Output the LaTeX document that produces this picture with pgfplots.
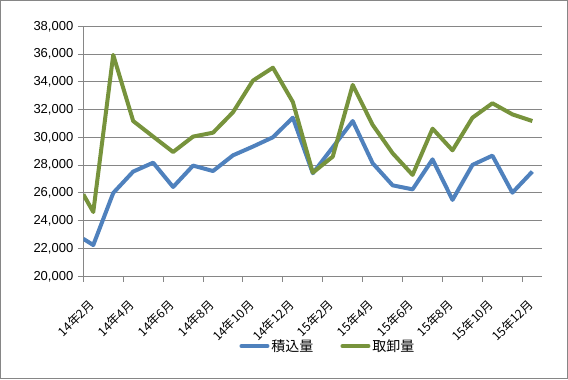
\documentclass[border=0pt]{standalone}
\usepackage{pgfplots}
\pgfplotsset{compat=1.18}
\usepackage{fontspec}
\setmainfont{Liberation Sans}
\newfontfamily\cjk{Noto Sans CJK JP}
\definecolor{sblue}{RGB}{79,129,189}
\definecolor{sgreen}{RGB}{119,147,60}
\definecolor{gridgray}{RGB}{134,134,134}
\begin{document}
\begin{tikzpicture}[x=1bp,y=1bp]
\draw[gridgray, line width=1bp] (0.5,0.5) rectangle (567.5,378.5);
\begin{axis}[
  at={(83.3bp,102.7bp)}, anchor=south west,
  scale only axis, width=459bp, height=250bp,
  xmin=1, xmax=24, ymin=20000, ymax=38000,
  ytick distance=2000, scaled y ticks=false,
  xtick={1,3,5,7,9,11,13,15,17,19,21,23},
  xticklabels={{\cjk 14年2月},{\cjk 14年4月},{\cjk 14年6月},{\cjk 14年8月},{\cjk 14年10月},{\cjk 14年12月},{\cjk 15年2月},{\cjk 15年4月},{\cjk 15年6月},{\cjk 15年8月},{\cjk 15年10月},{\cjk 15年12月}},
  axis x line*=bottom, axis y line*=left,
  x axis line style={-}, y axis line style={-},
  axis line style={draw=gridgray, line width=1bp},
  tick align=outside, major tick length=5.5bp,
  tick style={draw=gridgray, line width=1bp},
  ymajorgrids, grid style={draw=gridgray, line width=1bp},
  /pgf/number format/.cd, 1000 sep={,}, assume math mode=true, /pgfplots/.cd,
  yticklabel style={font=\fontsize{13bp}{15bp}\selectfont, xshift=-1bp},
  xticklabel style={font=\fontsize{12.2bp}{14bp}\selectfont, xshift=11bp, yshift=-18bp, rotate=45, anchor=east},
  legend style={at={(0.533,-0.279)}, anchor=center, draw=none, fill=none,
    font=\cjk\fontsize{14bp}{16bp}\selectfont, legend columns=2,
    /tikz/every even column/.append style={column sep=25bp},
    inner sep=0pt},
  legend cell align=left,
  legend image code/.code={\draw[#1, line cap=round] (0bp,0bp) -- (26bp,0bp);},
  every axis plot/.append style={line width=4bp, line join=round},
]
\addplot[sblue] coordinates {
(1,22700) (1.5,22250) (2.5,26000) (3.5,27540) (4.5,28180) (5.5,26430)
(6.5,27970) (7.5,27580) (8.5,28710) (9.5,29340) (10.5,30010) (11.5,31420)
(12.5,27420) (13.5,29290) (14.5,31180) (15.5,28140) (16.5,26550) (17.5,26260)
(18.5,28420) (19.5,25500) (20.5,28020) (21.5,28690) (22.5,26020) (23.5,27540)
};
\addlegendentry{積込量}
\addplot[sgreen] coordinates {
(1,25900) (1.5,24630) (2.5,35940) (3.5,31180) (4.5,30060) (5.5,28950)
(6.5,30060) (7.5,30340) (8.5,31810) (9.5,34090) (10.5,35020) (11.5,32550)
(12.5,27460) (13.5,28620) (14.5,33780) (15.5,30900) (16.5,28860) (17.5,27300)
(18.5,30630) (19.5,29070) (20.5,31420) (21.5,32460) (22.5,31660) (23.5,31180)
};
\addlegendentry{取卸量}
\end{axis}
\end{tikzpicture}
\end{document}
